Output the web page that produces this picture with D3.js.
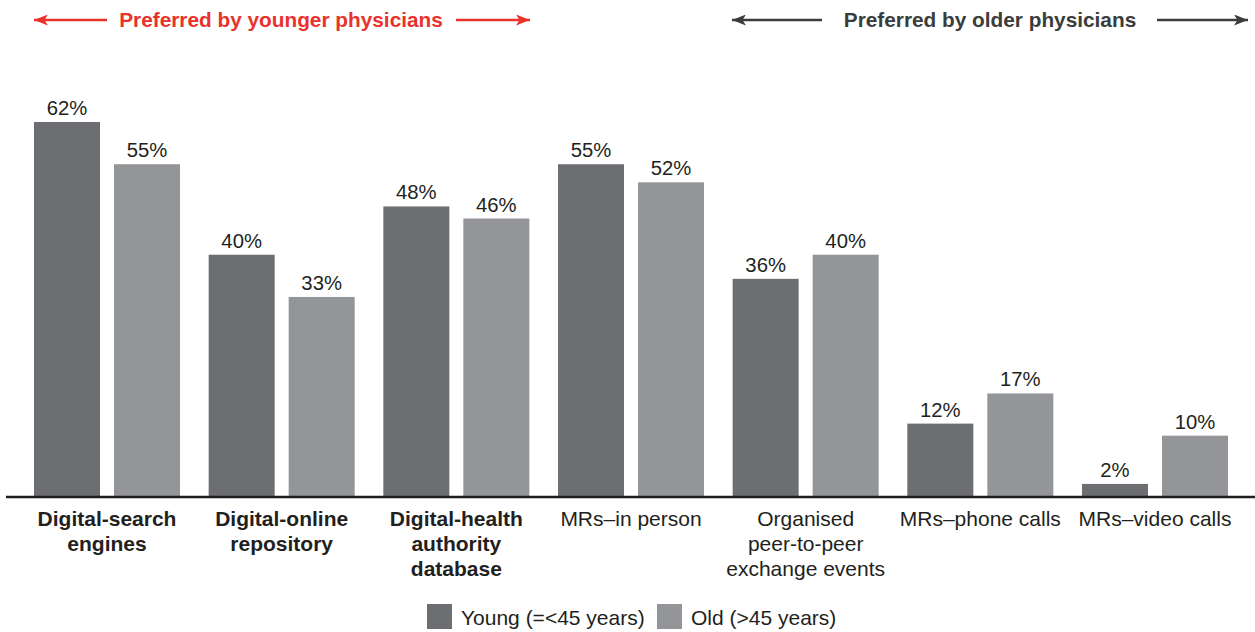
<!DOCTYPE html>
<html>
<head>
<meta charset="utf-8">
<script src="https://cdn.jsdelivr.net/npm/d3@7/dist/d3.min.js"></script>
<style>
  body { margin: 0; background: #fff; }
  svg { display: block; font-family: "Liberation Sans", Arial, sans-serif; }
</style>
</head>
<body>
<div id="chart"></div>
<script>
// data
var categories = [
  ["Digital-search", "engines"],
  ["Digital-online", "repository"],
  ["Digital-health", "authority", "database"],
  ["MRs\u2013in person"],
  ["Organised", "peer-to-peer", "exchange events"],
  ["MRs\u2013phone calls"],
  ["MRs\u2013video calls"]
];
var boldCats = [true, true, true, false, false, false, false];
var series = ["Young (=<45 years)", "Old (>45 years)"];
var young = [62, 40, 48, 55, 36, 12, 2];
var old = [55, 33, 46, 52, 40, 17, 10];
var colors = ["#6d6e71", "#939598"];

var W = 1255, H = 632;
var base = 496;

var svg = d3.select("#chart").append("svg")
  .attr("width", W)
  .attr("height", H);

var idx = d3.range(categories.length);

var x0 = d3.scaleBand()
  .domain(idx)
  .range([34, 1228])
  .paddingInner(0.164)
  .paddingOuter(0);

var x1 = d3.scaleBand()
  .domain([0, 1])
  .range([0, x0.bandwidth()])
  .paddingInner(0.175)
  .paddingOuter(0);

var y = d3.scaleLinear()
  .domain([0, 62])
  .range([base, 122]);

var rows = idx.map(function(i) { return [young[i], old[i]]; });

var groups = svg.selectAll("g.grp")
  .data(rows)
  .enter().append("g")
  .attr("class", "grp")
  .attr("transform", function(d, i) { return "translate(" + x0(i) + ",0)"; });

groups.selectAll("rect")
  .data(function(d) { return d; })
  .enter().append("rect")
  .attr("x", function(d, j) { return x1(j); })
  .attr("y", function(d) { return y(d); })
  .attr("width", x1.bandwidth())
  .attr("height", function(d) { return base - y(d); })
  .attr("fill", function(d, j) { return colors[j]; });

groups.selectAll("text.val")
  .data(function(d) { return d; })
  .enter().append("text")
  .attr("class", "val")
  .attr("x", function(d, j) { return x1(j) + x1.bandwidth() / 2; })
  .attr("y", function(d) { return y(d) - 7; })
  .attr("text-anchor", "middle")
  .attr("font-size", 20.3)
  .attr("fill", "#231f20")
  .text(function(d) { return d + "%"; });

// baseline
svg.append("line")
  .attr("x1", 6).attr("x2", W)
  .attr("y1", base + 1).attr("y2", base + 1)
  .attr("stroke", "#231f20")
  .attr("stroke-width", 2.5);

// category labels
var labels = svg.selectAll("text.cat")
  .data(categories)
  .enter().append("text")
  .attr("class", "cat")
  .attr("x", function(d, i) { return x0(i) + x0.bandwidth() / 2; })
  .attr("y", 526)
  .attr("text-anchor", "middle")
  .attr("font-size", 21)
  .attr("font-weight", function(d, i) { return boldCats[i] ? "bold" : "normal"; })
  .attr("fill", "#231f20");

labels.selectAll("tspan")
  .data(function(d) { return d; })
  .enter().append("tspan")
  .attr("x", function() { return this.parentNode.getAttribute("x"); })
  .attr("dy", function(d, k) { return k === 0 ? 0 : 25; })
  .text(function(d) { return d; });

// legend
var legX = [427, 657];
var leg = svg.selectAll("g.leg")
  .data(series)
  .enter().append("g")
  .attr("class", "leg")
  .attr("transform", function(d, i) { return "translate(" + legX[i] + ",604)"; });

leg.append("rect")
  .attr("width", 25).attr("height", 25)
  .attr("fill", function(d, i) { return colors[i]; });

leg.append("text")
  .attr("x", 34)
  .attr("y", 21)
  .attr("font-size", 21)
  .attr("fill", "#231f20")
  .text(function(d) { return d; });

// top arrow annotations
var notes = [
  { text: "Preferred by younger physicians", color: "#e8322b", x1: 34, x2: 530, t1: 107, t2: 456, cx: 281 },
  { text: "Preferred by older physicians", color: "#3a3d3c", x1: 732, x2: 1248, t1: 822, t2: 1157, cx: 990 }
];

var defs = svg.append("defs");
notes.forEach(function(n, i) {
  defs.append("marker")
    .attr("id", "ah" + i)
    .attr("viewBox", "0 0 14 11")
    .attr("refX", 14).attr("refY", 5.5)
    .attr("markerWidth", 14).attr("markerHeight", 11)
    .attr("markerUnits", "userSpaceOnUse")
    .attr("orient", "auto")
    .append("path")
    .attr("d", "M0,0 L14,5.5 L0,11 L3.5,5.5 Z")
    .attr("fill", n.color);
});

var ann = svg.selectAll("g.ann")
  .data(notes)
  .enter().append("g")
  .attr("class", "ann");

ann.append("line")
  .attr("x1", function(d) { return d.t1; })
  .attr("x2", function(d) { return d.x1; })
  .attr("y1", 20).attr("y2", 20)
  .attr("stroke", function(d) { return d.color; })
  .attr("stroke-width", 2.5)
  .attr("marker-end", function(d, i) { return "url(#ah" + i + ")"; });

ann.append("line")
  .attr("x1", function(d) { return d.t2; })
  .attr("x2", function(d) { return d.x2; })
  .attr("y1", 20).attr("y2", 20)
  .attr("stroke", function(d) { return d.color; })
  .attr("stroke-width", 2.5)
  .attr("marker-end", function(d, i) { return "url(#ah" + i + ")"; });

ann.append("text")
  .attr("x", function(d) { return d.cx; })
  .attr("y", 27)
  .attr("text-anchor", "middle")
  .attr("font-size", 20.8)
  .attr("font-weight", "bold")
  .attr("fill", function(d) { return d.color; })
  .text(function(d) { return d.text; });
</script>
</body>
</html>
